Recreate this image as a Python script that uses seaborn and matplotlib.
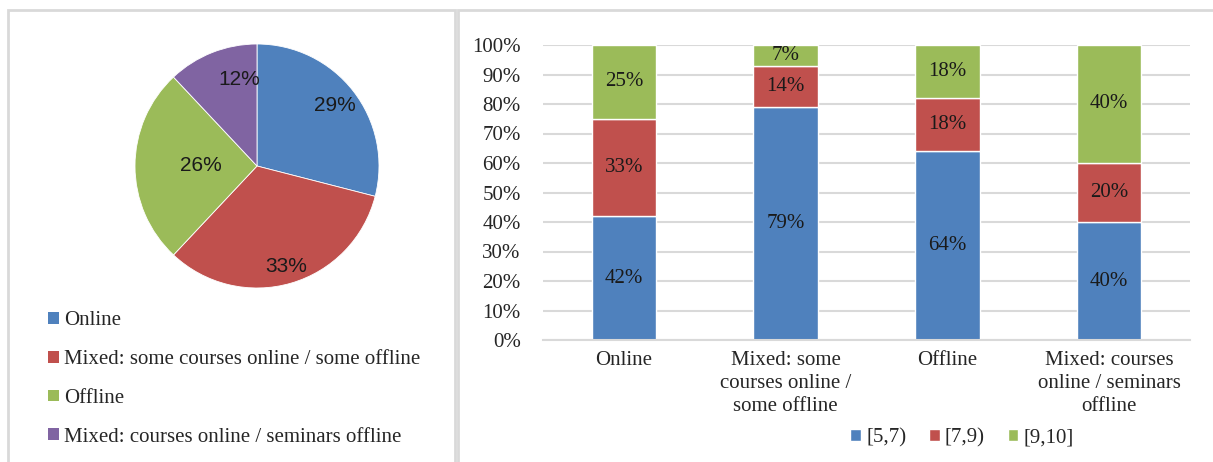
import matplotlib
matplotlib.use("Agg")
import matplotlib.pyplot as plt
import seaborn as sns
import numpy as np
from matplotlib.patches import Rectangle, Patch

# --- data ---
pie_labels = ["Online", "Mixed: some courses online / some offline", "Offline",
              "Mixed: courses online / seminars offline"]
pie_values = [29, 33, 26, 12]

bar_cats = ["Online", "Mixed: some\ncourses online /\nsome offline", "Offline",
            "Mixed: courses\nonline / seminars\noffline"]
series_names = ["[5,7)", "[7,9)", "[9,10]"]
s_5_7 = [42, 79, 64, 40]
s_7_9 = [33, 14, 18, 20]
s_9_10 = [25, 7, 18, 40]

colors = ["#4F81BD", "#C0504D", "#9BBB59", "#8064A2"]
# label distance from the pie centre (Excel "best fit" placement)
label_r = [0.81, 0.86, 0.46, 0.72]

sns.set_theme(style="white")
plt.rcParams['font.family'] = ['Liberation Serif', 'DejaVu Serif']

W, H = 1213, 462
FS = 15
fig = plt.figure(figsize=(W / 100, H / 100), dpi=100)


def px(x0, y0, x1, y1):
    # pixel box (top-left origin) -> figure fraction rect
    return [x0 / W, 1 - y1 / H, (x1 - x0) / W, (y1 - y0) / H]


# panel borders
for (x0, y0, x1, y1) in [(8, 10, 455, 470), (458, 10, 1220, 470)]:
    fig.patches.append(Rectangle((x0 / W, 1 - y1 / H), (x1 - x0) / W, (y1 - y0) / H,
                                 transform=fig.transFigure, fill=False,
                                 edgecolor="#D9D9D9", linewidth=2))

# --- pie ---
ax1 = fig.add_axes(px(135, 44, 379, 288))
wedges, _ = ax1.pie(pie_values, colors=colors, startangle=90, counterclock=False,
                    wedgeprops=dict(linewidth=0.6, edgecolor='white'))
for w, v, r in zip(wedges, pie_values, label_r):
    mid = (w.theta1 + w.theta2) / 2
    if v == 12:
        mid -= 10  # Excel nudges this label towards the top
    ang = np.deg2rad(mid)
    ax1.text(r * np.cos(ang), r * np.sin(ang), f"{v}%", ha='center', va='center',
             fontsize=FS, family=['Liberation Sans', 'DejaVu Sans'], color='#1a1a1a')
ax1.set_xlim(-1, 1)
ax1.set_ylim(-1, 1)
ax1.set_aspect('equal')

handles = [Patch(facecolor=c, edgecolor='none') for c in colors]
fig.legend(handles, pie_labels, loc='upper left', bbox_to_anchor=(40 / W, 1 - 303 / H),
           frameon=False, fontsize=FS, handlelength=0.5, handleheight=0.5,
           handletextpad=0.25, labelspacing=0.95, borderaxespad=0)

# --- stacked bars ---
ax2 = fig.add_axes(px(543, 45, 1190, 340))
bottom = np.zeros(4)
for name, vals, c in zip(series_names, [s_5_7, s_7_9, s_9_10], colors):
    sns.barplot(x=bar_cats, y=vals, bottom=bottom, color=c, width=0.4, ax=ax2,
                label=name, saturation=1)
    for i, v in enumerate(vals):
        ax2.text(i, bottom[i] + v / 2, f"{v}%", ha='center', va='center', fontsize=FS,
                 color='#1a1a1a')
    bottom = bottom + np.array(vals)

ax2.set_ylim(0, 100)
ax2.set_xlim(-0.5, 3.5)
ax2.set_yticks(range(0, 101, 10))
ax2.set_yticklabels([f"{t}%" for t in range(0, 101, 10)], fontsize=FS)
ax2.tick_params(axis='x', labelsize=FS, pad=8, length=0)
ax2.tick_params(axis='y', length=0, pad=16)
for lab in ax2.get_xticklabels():
    lab.set_linespacing(1.28)
ax2.grid(axis='y', color='#D9D9D9', linewidth=1.5)
ax2.set_axisbelow(True)
for s in ['top', 'right', 'left']:
    ax2.spines[s].set_visible(False)
ax2.spines['bottom'].set_color('#D9D9D9')
ax2.spines['bottom'].set_linewidth(1.5)
ax2.set_xlabel('')
ax2.legend(loc='center', bbox_to_anchor=(962 / W, 1 - 438 / H), bbox_transform=fig.transFigure,
           ncol=3, frameon=False, fontsize=FS, handlelength=0.5, handleheight=0.5,
           handletextpad=0.25, columnspacing=1.1)

fig.savefig("out.png", dpi=100)
